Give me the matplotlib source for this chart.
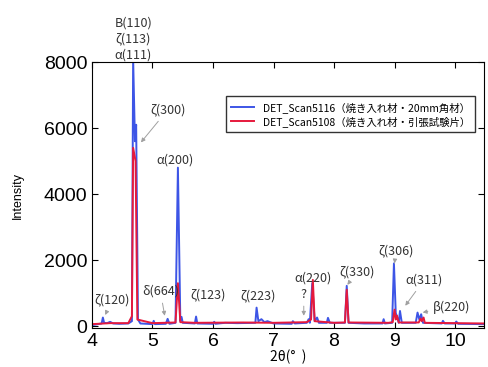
"""XRD pattern of quenched material: two scans overlaid."""

import matplotlib

matplotlib.use("Agg")
import matplotlib.pyplot as plt

plt.rcParams["font.family"] = ["Liberation Sans", "Noto Sans CJK JP", "DejaVu Sans"]
JP = ["Noto Sans CJK JP", "DejaVu Sans"]

# DET_Scan5116 (blue), 2theta / intensity
blue_x = [4.00, 4.10, 4.16, 4.18, 4.20, 4.25, 4.30, 4.35, 4.45, 4.60, 4.66, 4.68,
          4.71, 4.73, 4.76, 4.80, 5.00, 5.02, 5.04, 5.22, 5.25, 5.28, 5.38, 5.42,
          5.46, 5.48, 5.50, 5.70, 5.72, 5.74, 6.00, 6.02, 6.04, 6.20, 6.40, 6.70,
          6.72, 6.75, 6.80, 6.85, 6.90, 7.00, 7.30, 7.32, 7.35, 7.55, 7.58, 7.60,
          7.64, 7.68, 7.72, 7.75, 7.88, 7.90, 7.93, 8.18, 8.21, 8.24, 8.50, 8.80,
          8.82, 8.84, 8.96, 8.99, 9.02, 9.07, 9.09, 9.12, 9.35, 9.38, 9.41, 9.44,
          9.47, 9.78, 9.80, 9.83, 10.00, 10.02, 10.05, 10.50]
blue_y = [30, 60, 80, 260, 100, 90, 130, 80, 70, 80, 150, 8100,
          5600, 6100, 200, 80, 60, 160, 60, 70, 220, 70, 100, 4800,
          150, 280, 100, 80, 290, 80, 70, 130, 70, 100, 90, 100,
          560, 150, 210, 120, 150, 80, 70, 150, 80, 100, 210, 100,
          1300, 150, 260, 100, 100, 250, 100, 100, 1220, 100, 80, 80,
          210, 80, 100, 1900, 400, 100, 460, 100, 100, 410, 200, 360,
          100, 80, 160, 80, 80, 140, 70, 60]

# DET_Scan5108 (red)
red_x = [4.00, 4.30, 4.60, 4.66, 4.68, 4.72, 4.75, 5.00, 5.38, 5.42, 5.46, 5.70,
         6.50, 7.00, 7.55, 7.62, 7.65, 7.68, 8.00, 8.18, 8.21, 8.24, 8.90, 8.97,
         9.00, 9.02, 9.04, 9.07, 9.40, 9.43, 9.45, 9.48, 9.50, 10.00, 10.50]
red_y = [60, 90, 90, 300, 5400, 5000, 200, 90, 110, 1300, 120, 100,
         110, 100, 120, 200, 1400, 150, 100, 110, 1100, 110, 100, 120,
         500, 200, 320, 110, 110, 230, 150, 260, 100, 90, 80]

labels = ["DET_Scan5116（焼き入れ材・20mm角材）", "DET_Scan5108（焼き入れ材・引張試験片）"]
blue = "#3d55e6"
red = "#e6193c"

fig = plt.figure(figsize=(4.88, 3.67), dpi=100)
ax = fig.add_axes([0.1885, 0.106, 0.8035, 0.725])
ax.plot(blue_x, blue_y, color=blue, lw=1.4, label=labels[0])
ax.plot(red_x, red_y, color=red, lw=1.4, label=labels[1])

ax.set_xlim(4, 10.48)
ax.set_ylim(-60, 8000)
ax.set_xticks(range(4, 11))
ax.set_yticks([0, 2000, 4000, 6000, 8000])
ax.tick_params(direction="in", top=True, right=True, labelsize=14, length=4)
ax.set_xlabel("2θ(°  )", fontsize=10, labelpad=0, family=JP)
ax.set_ylabel("Intensity", fontsize=9, labelpad=14)

leg = ax.legend(loc="upper right", bbox_to_anchor=(0.99, 0.89), fancybox=False,
                edgecolor="black", prop={"family": JP, "size": 7.5},
                borderpad=0.5, handlelength=2.2, labelspacing=0.3)
leg.get_frame().set_linewidth(1.0)

gray = dict(arrowstyle="-|>", color="#a0a0a0", lw=0.7, mutation_scale=6)
kw = dict(fontsize=9, family=JP, ha="center", va="center", color="#333333")

ax.text(4.68, 8020, "B(110)\nζ(113)\nα(111)", va="bottom", ha="center",
        fontsize=9, family=JP, color="#333333", linespacing=1.3, clip_on=False)
ax.annotate("ζ(300)", xy=(4.78, 5500), xytext=(5.25, 6550), arrowprops=gray, **kw)
ax.text(5.38, 5030, "α(200)", **kw)
ax.annotate("ζ(120)", xy=(4.2, 260), xytext=(4.33, 790), arrowprops=gray, **kw)
ax.annotate("δ(664)", xy=(5.21, 230), xytext=(5.13, 1060), arrowprops=gray, **kw)
ax.text(5.91, 940, "ζ(123)", **kw)
ax.text(6.75, 910, "ζ(223)", **kw)
ax.annotate("?", xy=(7.5, 230), xytext=(7.5, 970), arrowprops=gray, **kw)
ax.text(7.66, 1450, "α(220)", **kw)
ax.annotate("ζ(330)", xy=(8.22, 1250), xytext=(8.38, 1640), arrowprops=gray, **kw)
ax.annotate("ζ(306)", xy=(9.0, 1900), xytext=(9.02, 2270), arrowprops=gray, **kw)
ax.annotate("α(311)", xy=(9.15, 550), xytext=(9.49, 1400), arrowprops=gray, **kw)
ax.annotate("β(220)", xy=(9.42, 400), xytext=(9.95, 575), arrowprops=gray, **kw)

fig.savefig("out.png", dpi=100)
plt.close(fig)
